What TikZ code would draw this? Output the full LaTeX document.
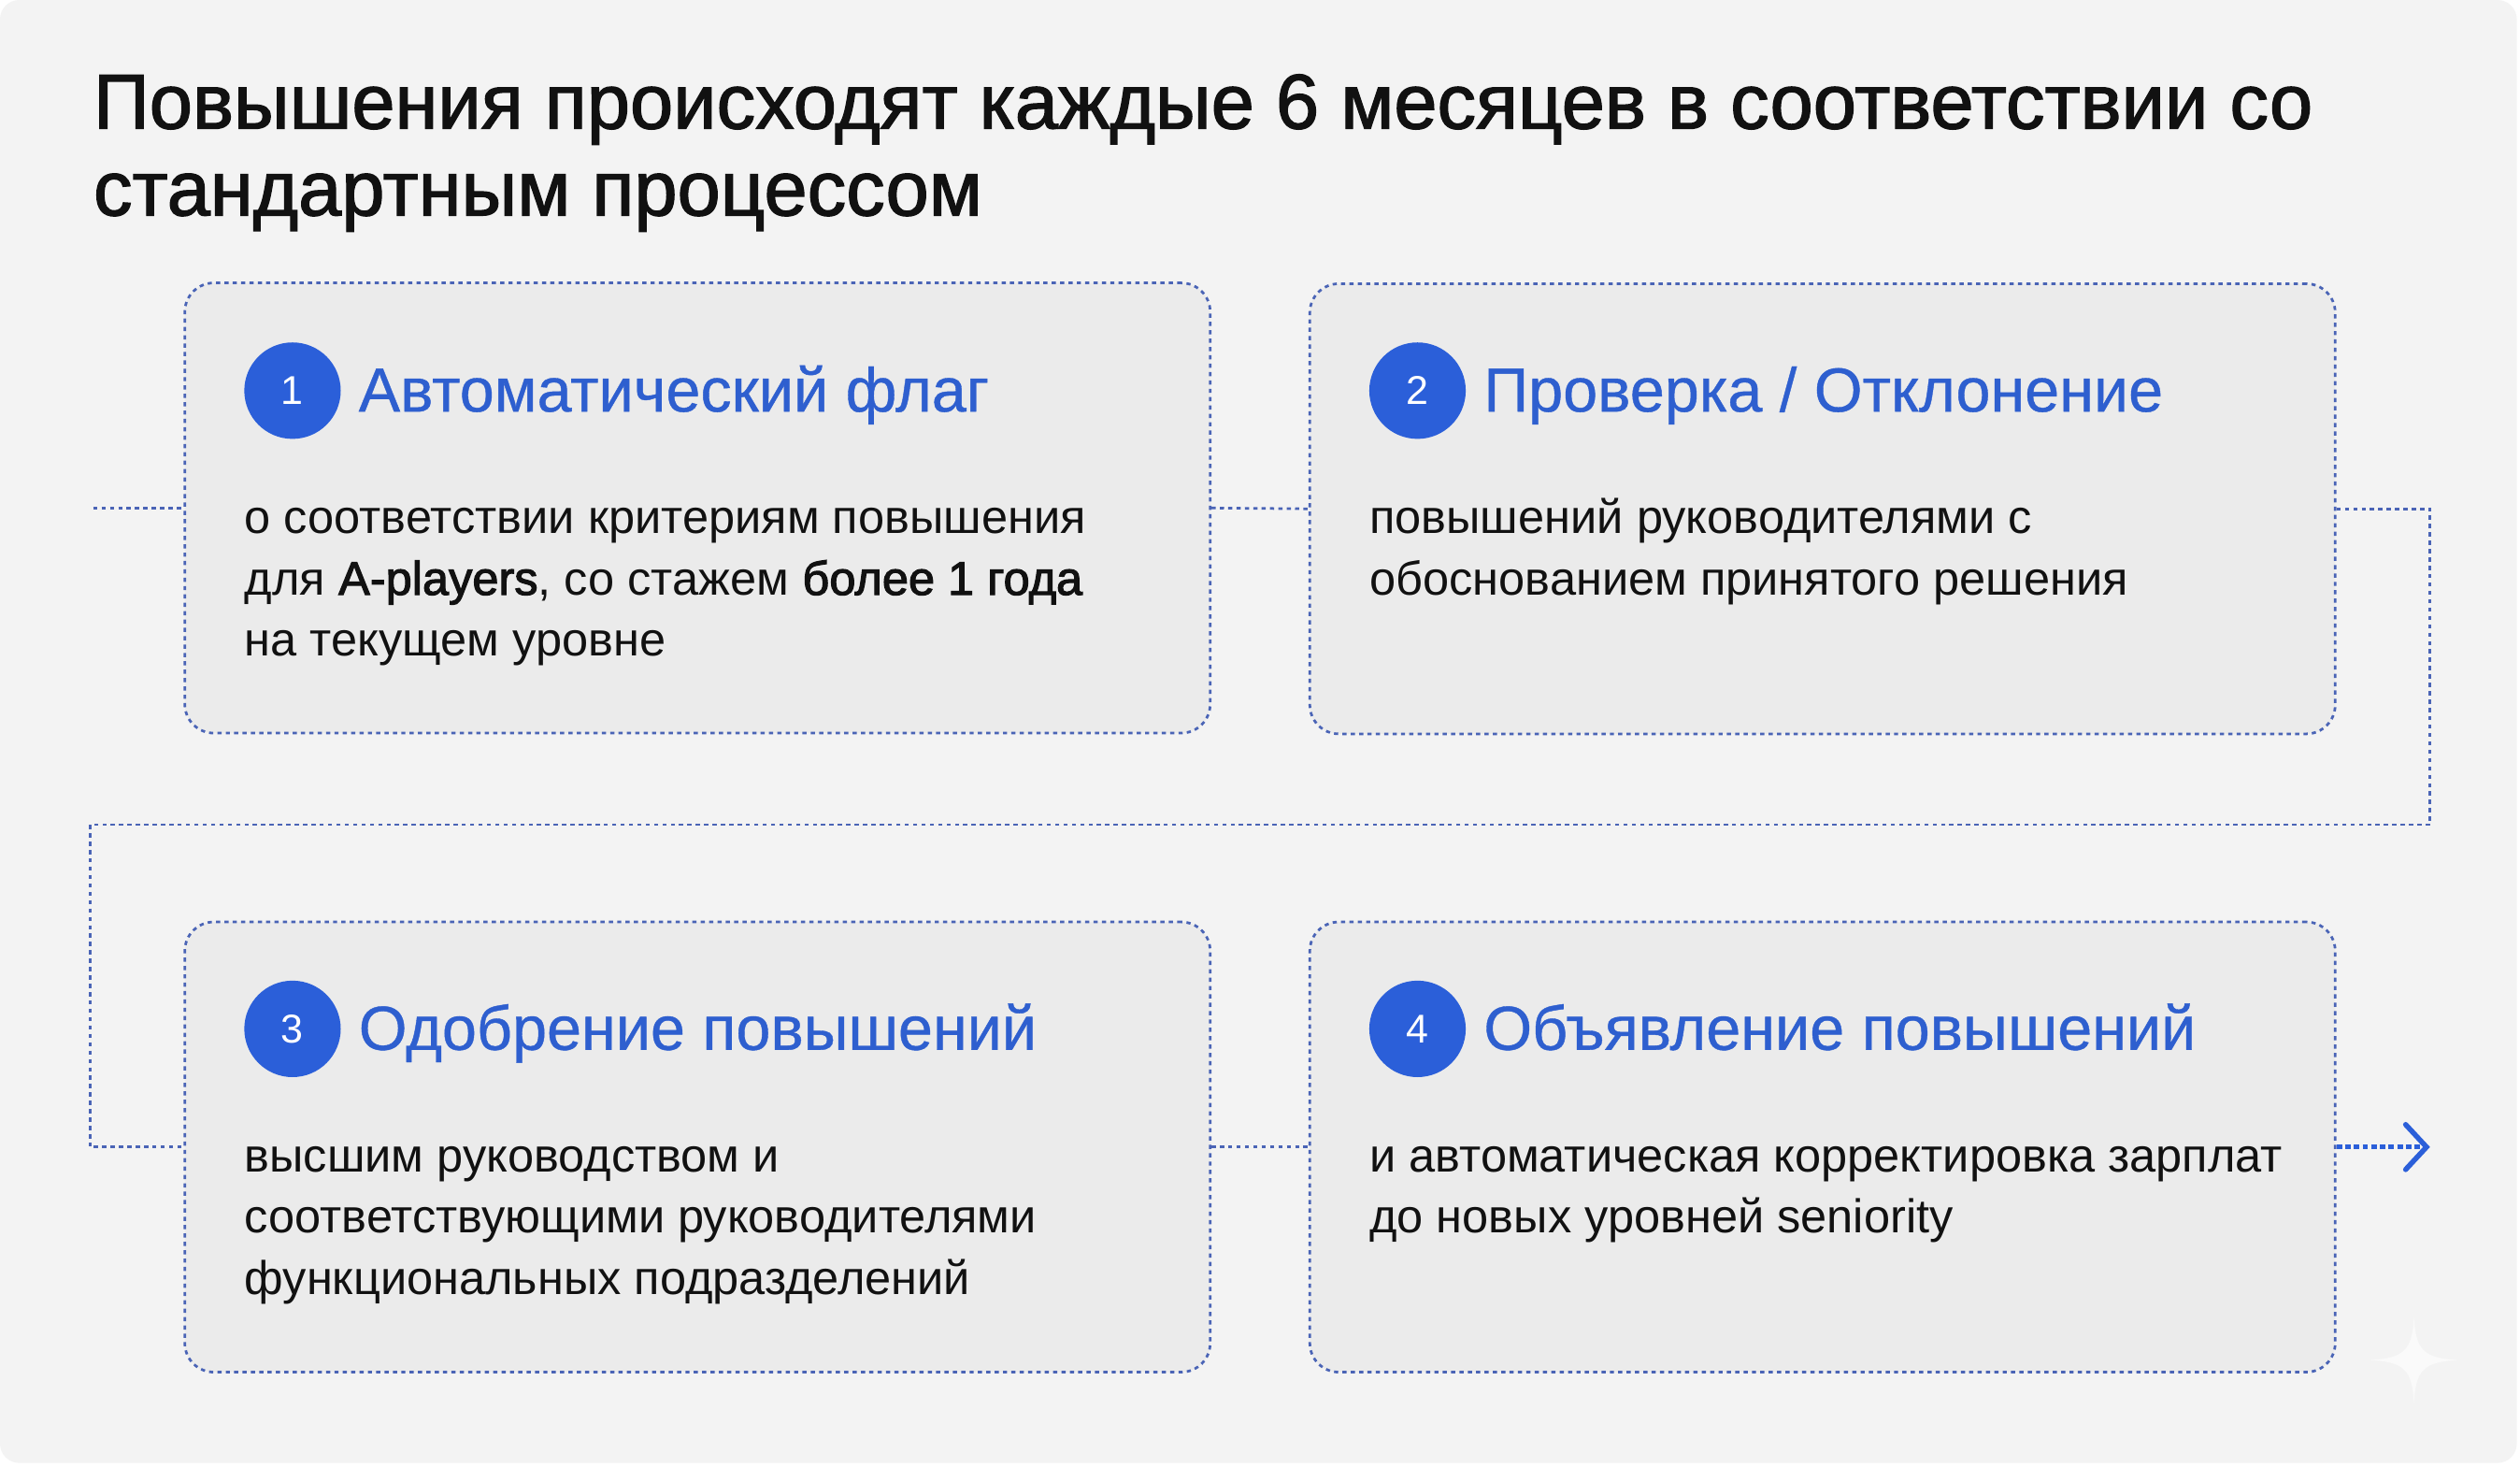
\documentclass[tikz,border=0pt]{standalone}
\usepackage{fontspec}
\setmainfont{Liberation Sans}
\newfontfamily\titlefont[FakeBold=1.6]{Liberation Sans}
\newfontfamily\headfont[FakeBold=0.6]{Liberation Sans}
\newfontfamily\semifont[FakeBold=2.2]{Liberation Sans}
\newcommand\semibold[1]{{\semifont #1}}
\usetikzlibrary{arrows.meta}
\definecolor{pagebg}{HTML}{F3F3F3}
\definecolor{boxfill}{HTML}{EBEBEB}
\definecolor{linkblue}{HTML}{4A64B6}
\definecolor{circblue}{HTML}{2B5FD9}
\definecolor{headblue}{HTML}{2E5FCF}
\definecolor{textblack}{HTML}{111111}
\tikzset{
  stepbox/.style={draw=linkblue, fill=boxfill, line width=1.6pt, dash pattern=on 2.6pt off 2.6pt,
    rounded corners=18pt, minimum width=638pt, minimum height=280pt, inner sep=0pt},
  conn/.style={draw=linkblue, line width=1.6pt, dash pattern=on 2.6pt off 2.6pt},
  endconn/.style={draw=circblue, line width=3pt, dash pattern=on 3.4pt off 2pt},
  numcirc/.style={circle, fill=circblue, minimum size=60pt, inner sep=0pt, text=white,
    font=\fontsize{25}{28}\selectfont},
  headtext/.style={text=headblue, inner sep=0pt, anchor=base west, font=\headfont\fontsize{38.7}{44}\selectfont},
  bodytext/.style={text=textblack, inner sep=0pt, anchor=base west, font=\fontsize{29.4}{38}\selectfont},
  titletext/.style={text=textblack, inner sep=0pt, anchor=base west, font=\titlefont\fontsize{48.3}{54}\selectfont},
}
\begin{document}
\begin{tikzpicture}[x=1pt,y=-1pt]
\useasboundingbox (0,0) rectangle (1568,912);
\fill[white] (0,0) rectangle (1568,912);
\fill[pagebg, rounded corners=12pt] (0,0) rectangle (1566,910);

% title
\node[titletext] (title) at (58,80) {\vtop{\baselineskip=54pt
  \hbox{Повышения происходят каждые 6 месяцев в соответствии со}
  \hbox{стандартным процессом}}};

% boxes
\node[stepbox] (b1) at (434,316) {};
\node[stepbox] (b2) at (1134,316.5) {};
\node[stepbox] (b3) at (434,713.5) {};
\node[stepbox] (b4) at (1134,713.5) {};

% numbers
\node[numcirc] (c1) at (182,243) {1};
\node[numcirc] (c2) at (882,243) {2};
\node[numcirc] (c3) at (182,640) {3};
\node[numcirc] (c4) at (882,640) {4};

% headings
\node[headtext] (h1) at (223,256) {Автоматический флаг};
\node[headtext] (h2) at (923,256) {Проверка / Отклонение};
\node[headtext] (h3) at (223,653) {Одобрение повышений};
\node[headtext] (h4) at (923,653) {Объявление повышений};

% body texts
\node[bodytext] (t1) at (152,332) {\vtop{\baselineskip=38pt
  \hbox{о соответствии критериям повышения}
  \hbox{для \semibold{A-players}, со стажем \semibold{более 1 года}}
  \hbox{на текущем уровне}}};
\node[bodytext] (t2) at (852,332) {\vtop{\baselineskip=38pt
  \hbox{повышений руководителями с}
  \hbox{обоснованием принятого решения}}};
\node[bodytext] (t3) at (152,729) {\vtop{\baselineskip=38pt
  \hbox{высшим руководством и}
  \hbox{соответствующими руководителями}
  \hbox{функциональных подразделений}}};
\node[bodytext] (t4) at (852,729) {\vtop{\baselineskip=38pt
  \hbox{и автоматическая корректировка зарплат}
  \hbox{до новых уровней seniority}}};

% connectors
\coordinate (start) at (58,316);
\coordinate (arrend) at (1512,713.5);
\draw[conn] (start) -- (b1.west);
\draw[conn] (b1.east) -- (b2.west);
\draw[conn] (b2.east) -- (1512,316.5) -- (1512,513) -- (56,513) -- (56,713.5) -- (b3.west);
\draw[conn] (b3.east) -- (b4.west);
\draw[endconn, -{Straight Barb[length=13pt, width=28pt, line width=3.2pt, line cap=round]}] (b4.east) -- (arrend);

% sparkle
\fill[white, opacity=0.6] (1502,819) .. controls (1503,840) and (1508,845) .. (1530,846)
  .. controls (1508,847) and (1503,852) .. (1502,873)
  .. controls (1501,852) and (1496,847) .. (1474,846)
  .. controls (1496,845) and (1501,840) .. (1502,819) -- cycle;
\end{tikzpicture}
\end{document}
